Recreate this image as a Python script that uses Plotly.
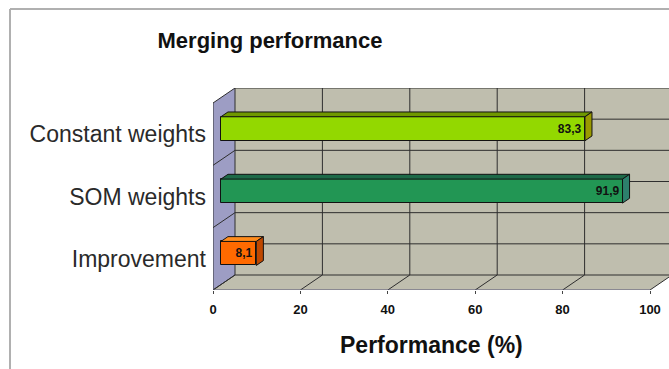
import plotly.graph_objects as go

# ---- data ----
categories = ["Constant weights", "SOM weights", "Improvement"]
values = [83.3, 91.9, 8.1]
value_labels = ["83,3", "91,9", "8,1"]
x_ticks = [0, 20, 40, 60, 80, 100]
title_text = "Merging performance"
x_title = "Performance (%)"

front_colors = ["#93d800", "#229654", "#ff6a00"]
top_colors = ["#6f9800", "#1d6a48", "#ff8c1c"]
side_colors = ["#9a9a00", "#2d806c", "#bf4800"]

# ---- geometry (pseudo-3D projection in axis units) ----
W, H = 669, 369
ML, MR, MT, MB = 213, 0, 88, 79
px_per_x = 4.37
px_per_y = 62.33
x_max = (W - ML - MR) / px_per_x
DX = 22 / px_per_x          # depth shift in x units
DY = 15 / px_per_y          # depth shift in y units
y_lo = -0.5
y_hi = len(categories) - 0.5
y_top_range = y_hi + DY

bar_w = 24 / px_per_y
d0 = 0.36
d1 = 0.68
bx0, by0 = d0 * DX, d0 * DY
ddx, ddy = (d1 - d0) * DX, (d1 - d0) * DY

ypos = list(range(len(categories) - 1, -1, -1))  # top to bottom

fig = go.Figure()
fig.add_trace(go.Bar(
    y=ypos, x=values, base=bx0, orientation="h",
    width=bar_w, offset=-bar_w / 2 + by0,
    marker=dict(color=front_colors, line=dict(color="#111111", width=1)),
    text=value_labels, textposition="inside", insidetextanchor="end",
    textangle=0, constraintext="none",
    textfont=dict(family="Liberation Sans, Arial", size=12, color="#111111", weight="bold"),
    hoverinfo="skip", showlegend=False,
))

shapes = []
wall = "#bfbeae"
grid = "#2e2e2e"
# side wall
shapes.append(dict(type="path", xref="x", yref="y", layer="below",
                   path=f"M0,{y_lo} L{DX},{y_lo+DY} L{DX},{y_hi+DY} L0,{y_hi} Z",
                   fillcolor="#9d9dc4", line=dict(width=0)))
# floor
shapes.append(dict(type="path", xref="x", yref="y", layer="below",
                   path=f"M0,{y_lo} L{x_ticks[-1]},{y_lo} L{x_ticks[-1]+DX},{y_lo+DY} L{DX},{y_lo+DY} Z",
                   fillcolor=wall, line=dict(width=0)))
# back wall
shapes.append(dict(type="rect", xref="x", yref="y", layer="below",
                   x0=DX, x1=x_ticks[-1] + DX, y0=y_lo + DY, y1=y_hi + DY,
                   fillcolor=wall, line=dict(width=0)))
# back wall vertical gridlines + floor diagonals
for t in x_ticks:
    shapes.append(dict(type="line", xref="x", yref="y", layer="below",
                       x0=t + DX, x1=t + DX, y0=y_lo + DY, y1=y_hi + DY,
                       line=dict(color=grid, width=1)))
    shapes.append(dict(type="line", xref="x", yref="y", layer="below",
                       x0=t, x1=t + DX, y0=y_lo, y1=y_lo + DY,
                       line=dict(color=grid, width=1)))
# back wall horizontal gridlines (category boundaries and centres)
n_half = int((y_hi - y_lo) * 2)
for k in range(n_half + 1):
    yy = y_lo + k * 0.5 + DY
    shapes.append(dict(type="line", xref="x", yref="y", layer="below",
                       x0=DX, x1=x_ticks[-1] + DX, y0=yy, y1=yy,
                       line=dict(color=grid, width=1)))
# side wall diagonals at category boundaries
for k in range(len(categories) + 1):
    yy = y_lo + k
    shapes.append(dict(type="line", xref="x", yref="y", layer="below",
                       x0=0, x1=DX, y0=yy, y1=yy + DY,
                       line=dict(color=grid, width=1)))
    shapes.append(dict(type="line", xref="x", yref="y", layer="below",
                       x0=-0.7, x1=0, y0=yy, y1=yy,
                       line=dict(color=grid, width=1)))
# front left edge and front floor edge
shapes.append(dict(type="line", xref="x", yref="y", layer="below",
                   x0=0, x1=0, y0=y_lo, y1=y_hi, line=dict(color="#333333", width=1)))
shapes.append(dict(type="line", xref="x", yref="y", layer="below",
                   x0=0, x1=x_ticks[-1], y0=y_lo, y1=y_lo, line=dict(color="#555577", width=1)))

# bar top and side faces
for yp, v, tc, sc in zip(ypos, values, top_colors, side_colors):
    yb = yp - bar_w / 2 + by0
    yt = yb + bar_w
    xe = bx0 + v
    shapes.append(dict(type="path", xref="x", yref="y", layer="above",
                       path=f"M{bx0},{yt} L{xe},{yt} L{xe+ddx},{yt+ddy} L{bx0+ddx},{yt+ddy} Z",
                       fillcolor=tc, line=dict(color="#111111", width=1)))
    shapes.append(dict(type="path", xref="x", yref="y", layer="above",
                       path=f"M{xe},{yb} L{xe},{yt} L{xe+ddx},{yt+ddy} L{xe+ddx},{yb+ddy} Z",
                       fillcolor=sc, line=dict(color="#111111", width=1)))

# outer chart frame (top and left edges)
plot_w = W - ML - MR
plot_h = H - MT - MB
fx = (10 - ML) / plot_w
fy_top = (H - MB - 9) / plot_h
fy_bot = (H - MB - H - 5) / plot_h
shapes.append(dict(type="line", xref="paper", yref="paper", x0=fx, x1=1.05, y0=fy_top, y1=fy_top,
                   line=dict(color="#b0b0b0", width=2)))
shapes.append(dict(type="line", xref="paper", yref="paper", x0=fx, x1=fx, y0=fy_top, y1=fy_bot,
                   line=dict(color="#b0b0b0", width=2)))

fig.update_layout(
    width=W, height=H,
    margin=dict(l=ML, r=MR, t=MT, b=MB),
    paper_bgcolor="white", plot_bgcolor="white",
    shapes=shapes,
    title=dict(text=title_text, x=270 / W, xanchor="center", y=1 - 40 / H, yanchor="middle",
               font=dict(family="Liberation Sans, Arial", size=22, color="#111111", weight="bold")),
    xaxis=dict(range=[0, x_max], tickvals=x_ticks, ticktext=[str(t) for t in x_ticks],
               showgrid=False, zeroline=False, showline=False,
               ticks="outside", ticklen=3, tickcolor="#444444", ticklabelstandoff=4,
               tickfont=dict(family="Liberation Sans, Arial", size=13, color="#111111", weight="bold")),
    yaxis=dict(range=[y_lo, y_top_range], tickvals=ypos, ticktext=categories,
               showgrid=False, zeroline=False, showline=False, ticks="",
               ticklabelstandoff=6,
               tickfont=dict(family="Liberation Sans, Arial", size=23, color="#2a2a2a")),
    annotations=[dict(text=x_title, xref="x", yref="paper", x=x_ticks[-1] / 2,
                      y=(H - MB - 345) / plot_h, xanchor="center", yanchor="middle",
                      showarrow=False,
                      font=dict(family="Liberation Sans, Arial", size=23, color="#111111", weight="bold"))],
    bargap=0,
)

fig.write_html("out.html")
